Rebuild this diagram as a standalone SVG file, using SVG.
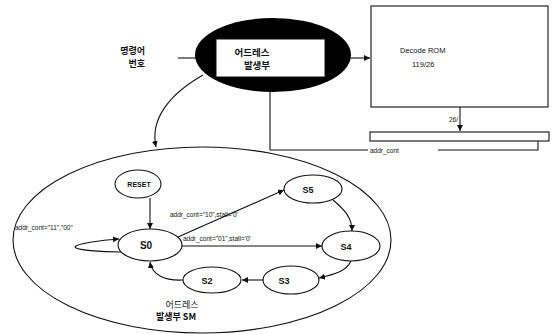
<svg xmlns="http://www.w3.org/2000/svg" width="554" height="334" viewBox="0 0 554 334">
<style>
.ln{fill:none;stroke:#111;stroke-width:1.1}
.st{fill:#fff;stroke:#111;stroke-width:1.1}
.t{font-family:"Liberation Sans","Noto Sans CJK KR",sans-serif;fill:#111}
.b{font-weight:bold}
.k{font-family:"Noto Sans CJK KR","Liberation Sans",sans-serif;fill:#111}
</style>
<defs>
<marker id="ah" markerUnits="userSpaceOnUse" markerWidth="8" markerHeight="8" refX="6" refY="3" orient="auto">
<path d="M0,0 L6,3 L0,6 Z" fill="#111"/>
</marker>
</defs>
<rect width="554" height="334" fill="#fff"/>

<g id="input-label">
<text class="k" x="145" y="54" font-size="9" text-anchor="end" font-weight="bold">명령어</text>
<text class="k" x="145" y="67" font-size="9" text-anchor="end" font-weight="bold">번호</text>
</g>

<g id="addr-gen">
<ellipse cx="273" cy="55" rx="78" ry="37" fill="#000"/>
<rect x="216" y="39" width="109" height="38" fill="#fff" stroke="#111"/>
<text class="k" x="252" y="56" font-size="9.5" text-anchor="middle" font-weight="bold">어드레스</text>
<text class="k" x="257" y="69" font-size="9.5" text-anchor="middle" font-weight="bold">발생부</text>
</g>

<g id="decode-rom">
<rect x="371" y="6" width="177" height="101" class="st"/>
<text class="t" x="400" y="53" font-size="7.5">Decode ROM</text>
<text class="t" x="412" y="67" font-size="7.5">119/26</text>
</g>

<g id="register">
<rect x="370" y="132" width="179" height="9" class="st"/>
</g>

<g id="sm-frame">
<ellipse cx="202" cy="240" rx="189" ry="93" class="ln"/>
<text class="k" x="182" y="308" font-size="9" text-anchor="middle">어드레스</text>
<text class="k" x="176" y="320" font-size="9" text-anchor="middle" font-weight="bold">발생부 SM</text>
</g>

<g id="RESET">
<ellipse cx="138" cy="184" rx="23" ry="14" class="st"/>
<text class="t b" x="139" y="187" font-size="7" text-anchor="middle">RESET</text>
</g>
<g id="S0">
<ellipse cx="150" cy="245" rx="32" ry="16" class="st"/>
<text class="t b" x="146" y="249" font-size="10" text-anchor="middle">S0</text>
</g>
<g id="S5">
<ellipse cx="313" cy="189" rx="29" ry="14" class="st"/>
<text class="t b" x="308" y="193" font-size="9" text-anchor="middle">S5</text>
</g>
<g id="S4">
<ellipse cx="351" cy="246" rx="29" ry="15" class="st"/>
<text class="t b" x="346" y="250" font-size="9" text-anchor="middle">S4</text>
</g>
<g id="S3">
<ellipse cx="291" cy="280" rx="28" ry="14" class="st"/>
<text class="t b" x="284" y="284" font-size="9" text-anchor="middle">S3</text>
</g>
<g id="S2">
<ellipse cx="212" cy="280" rx="29" ry="13" class="st"/>
<text class="t b" x="207" y="284" font-size="9" text-anchor="middle">S2</text>
</g>

<g id="connectors">
<line x1="178" y1="58" x2="197" y2="58" class="ln"/>
<line x1="351" y1="58" x2="370" y2="58" class="ln" marker-end="url(#ah)"/>
<path d="M203,75 C168,95 150,120 156,147" class="ln" marker-end="url(#ah)"/>
<line x1="270" y1="92" x2="270" y2="150" class="ln"/>
<line x1="270" y1="150" x2="368" y2="150" class="ln"/>
<polyline points="438,150 538,150 538,141" class="ln"/>
<line x1="460" y1="107" x2="460" y2="131" class="ln" marker-end="url(#ah)"/>
<text class="t" x="449" y="122" font-size="6.5">26/</text>
<text class="t" x="370" y="152.5" font-size="6.5">addr_cont</text>

<line x1="150" y1="198" x2="150" y2="229" class="ln" marker-end="url(#ah)"/>
<path d="M121,252 C100,252 76,250 75,247 C76,244 100,240 119,239" class="ln" marker-end="url(#ah)"/>
<text class="t" x="15" y="230" font-size="6.5">addr_cont="11","00"</text>
<line x1="178" y1="237" x2="284" y2="190" class="ln" marker-end="url(#ah)"/>
<text class="t" x="170" y="217" font-size="6.5">addr_cont="10",stall='0'</text>
<line x1="182" y1="246" x2="322" y2="246" class="ln" marker-end="url(#ah)"/>
<text class="t" x="183" y="241" font-size="6.5">addr_cont="01",stall='0'</text>
<path d="M333,200 C345,210 352,218 352,231" class="ln" marker-end="url(#ah)"/>
<path d="M351,261 C346,272 332,275 319,278" class="ln" marker-end="url(#ah)"/>
<line x1="263" y1="280" x2="242" y2="280" class="ln" marker-end="url(#ah)"/>
<path d="M183,280 C165,281 152,275 150,262" class="ln" marker-end="url(#ah)"/>
</g>
</svg>
